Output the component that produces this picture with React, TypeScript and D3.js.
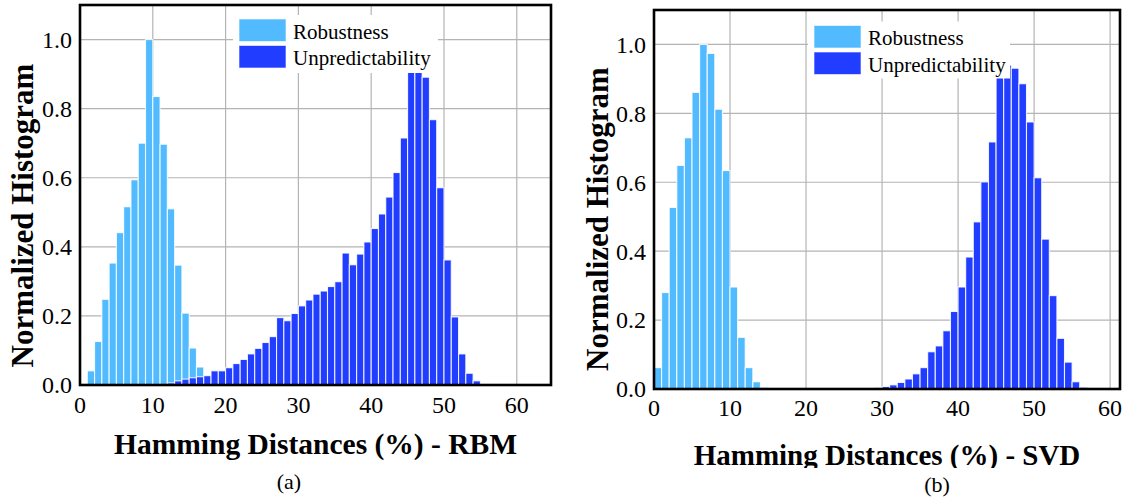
import React from "react";
import * as d3 from "d3";

// Normalized Hamming-distance histograms, 1 % bins: bin k covers [k, k+1).
// Values listed from the first non-empty bin onward.
const rbmRobustnessStart = 1;
const rbmRobustness = [0.041, 0.126, 0.248, 0.353, 0.441, 0.516, 0.594, 0.7, 1.0, 0.835, 0.697, 0.51, 0.347, 0.208, 0.107, 0.052];

const rbmUnpredictStart = 12;
const rbmUnpredict = [
  0.006, 0.012, 0.017, 0.021, 0.024, 0.027, 0.041, 0.041, 0.05, 0.062, 0.074, 0.09, 0.106, 0.123, 0.14,
  0.195, 0.186, 0.207, 0.229, 0.246, 0.263, 0.272, 0.285, 0.299, 0.382, 0.348, 0.379, 0.414, 0.453,
  0.495, 0.544, 0.615, 0.715, 0.93, 0.93, 0.891, 0.768, 0.571, 0.362, 0.197, 0.09, 0.034, 0.012,
];

const svdRobustnessStart = 0;
const svdRobustness = [0.062, 0.28, 0.527, 0.649, 0.729, 0.861, 1.0, 0.974, 0.812, 0.634, 0.296, 0.15, 0.062, 0.021, 0.005];

const svdUnpredictStart = 29;
const svdUnpredict = [
  0.004, 0.007, 0.012, 0.019, 0.029, 0.044, 0.062, 0.108, 0.125, 0.169, 0.225, 0.296, 0.383, 0.485,
  0.601, 0.717, 0.94, 0.94, 0.931, 0.886, 0.775, 0.613, 0.435, 0.271, 0.147, 0.078, 0.021, 0.005,
];

const xTicks = [0, 10, 20, 30, 40, 50, 60];
const yTicks = [0, 0.2, 0.4, 0.6, 0.8, 1.0];
const seriesNames = ["Robustness", "Unpredictability"];

const LIGHT = "#52bbff";
const DARK = "#213dff";
const GRID = "#b4b4b4";
const FONT = "'Liberation Serif', 'Times New Roman', serif";

type Layout = {
  left: number; right: number; top: number; bottom: number;
  xMax: number;
  legendX: number; legendY: number; legendW: number; legendH: number;
  yTitleX: number; yTitleY: number;
  xTitleY: number; xTitleSize: number; xTitleClip: number;
  capX: number; capY: number;
  tickY: number;
};

function toBins(start: number, values: number[]) {
  return values.map((v, i) => ({ bin: start + i, v }));
}

function Panel({ robust, unpred, title, caption, L, clipId }: {
  robust: { bin: number; v: number }[];
  unpred: { bin: number; v: number }[];
  title: string; caption: string; L: Layout; clipId: string;
}) {
  const x = d3.scaleLinear().domain([0, L.xMax]).range([L.left, L.right]);
  const y = d3.scaleLinear().domain([0, 1.1]).range([L.bottom, L.top]);

  const bar = (d: { bin: number; v: number }, fill: string, key: string) => (
    <rect key={key} x={x(d.bin)} y={y(d.v)} width={x(d.bin + 1) - x(d.bin)} height={y(0) - y(d.v)}
      fill={fill} stroke="#ffffff" strokeOpacity={0.85} strokeWidth={1.1} />
  );

  return (
    <g>
      <defs>
        <clipPath id={clipId}>
          <rect x={L.left} y={L.top} width={L.right - L.left} height={L.bottom - L.top} />
        </clipPath>
        <clipPath id={clipId + "-title"}>
          <rect x={0} y={L.bottom} width={1126} height={L.xTitleClip - L.bottom} />
        </clipPath>
      </defs>
      {/* grid */}
      <g stroke={GRID} strokeWidth={1.2}>
        {xTicks.filter((t) => t > 0).map((t) => (
          <line key={"gx" + t} x1={x(t)} x2={x(t)} y1={L.top} y2={L.bottom} />
        ))}
        {yTicks.filter((t) => t > 0).map((t) => (
          <line key={"gy" + t} x1={L.left} x2={L.right} y1={y(t)} y2={y(t)} />
        ))}
      </g>
      {/* bars */}
      <g clipPath={`url(#${clipId})`}>
        {robust.map((d, i) => bar(d, LIGHT, "r" + i))}
        {unpred.map((d, i) => bar(d, DARK, "u" + i))}
      </g>
      {/* legend */}
      <g>
        <rect x={L.legendX} y={L.legendY} width={L.legendW} height={L.legendH} fill="#ffffff" />
        {seriesNames.map((name, i) => (
          <g key={name}>
            <rect x={L.legendX + 6} y={L.legendY + 4 + i * 26.5} width={47} height={22.5}
              fill={i === 0 ? LIGHT : DARK} stroke="#ffffff" strokeOpacity={0.6} strokeWidth={1} />
            <text x={L.legendX + 60} y={L.legendY + 23.5 + i * 26.5} fontSize={21} fontFamily={FONT} fill="#000">
              {name}
            </text>
          </g>
        ))}
      </g>
      {/* frame */}
      <rect x={L.left} y={L.top} width={L.right - L.left} height={L.bottom - L.top}
        fill="none" stroke="#000" strokeWidth={2.6} />
      {/* tick labels */}
      <g fontFamily={FONT} fontSize={24} fill="#000">
        {xTicks.map((t) => (
          <text key={"xt" + t} x={x(t)} y={L.tickY} textAnchor="middle">{t}</text>
        ))}
        {yTicks.map((t) => (
          <text key={"yt" + t} x={L.left - 8} y={y(t)} dy="0.35em" textAnchor="end">{t.toFixed(1)}</text>
        ))}
      </g>
      {/* axis titles */}
      <text transform={`translate(${L.yTitleX},${L.yTitleY}) rotate(-90)`} textAnchor="middle"
        fontFamily={FONT} fontWeight="bold" fontSize={31} fill="#000">Normalized Histogram</text>
      <g clipPath={`url(#${clipId}-title)`}>
        <text x={(L.left + L.right) / 2} y={L.xTitleY} textAnchor="middle" fontFamily={FONT}
          fontWeight="bold" fontSize={L.xTitleSize} fill="#000">{title}</text>
      </g>
      <text x={L.capX} y={L.capY} textAnchor="middle" fontFamily={FONT} fontSize={22} fill="#000">{caption}</text>
    </g>
  );
}

const layoutA: Layout = {
  left: 80, right: 551, top: 5, bottom: 385, xMax: 64.7,
  legendX: 233, legendY: 15, legendW: 205, legendH: 58,
  yTitleX: 33, yTitleY: 215.5,
  xTitleY: 454, xTitleSize: 29.5, xTitleClip: 497,
  capX: 289, capY: 489,
  tickY: 413,
};

const layoutB: Layout = {
  left: 654, right: 1120, top: 10, bottom: 389, xMax: 61.3,
  legendX: 808, legendY: 21.5, legendW: 202, legendH: 57,
  yTitleX: 608, yTitleY: 219,
  xTitleY: 465, xTitleSize: 29, xTitleClip: 468,
  capX: 937, capY: 492,
  tickY: 416,
};

export default function App() {
  return (
    <svg width={1126} height={497} style={{ position: "absolute", left: 0, top: 0, background: "#fff" }}>
      <Panel robust={toBins(rbmRobustnessStart, rbmRobustness)} unpred={toBins(rbmUnpredictStart, rbmUnpredict)}
        title="Hamming Distances (%) - RBM" caption="(a)" L={layoutA} clipId="clipA" />
      <Panel robust={toBins(svdRobustnessStart, svdRobustness)} unpred={toBins(svdUnpredictStart, svdUnpredict)}
        title="Hamming Distances (%) - SVD" caption="(b)" L={layoutB} clipId="clipB" />
    </svg>
  );
}
